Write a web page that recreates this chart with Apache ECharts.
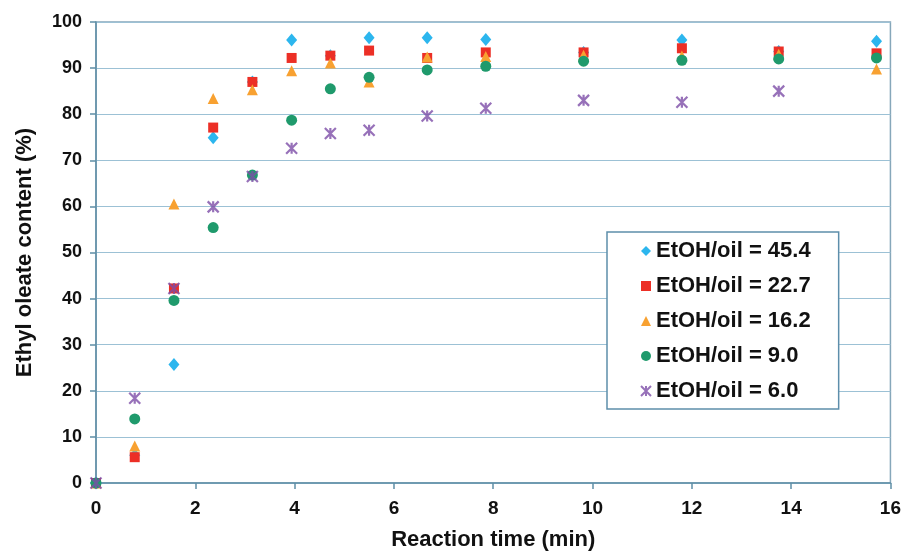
<!DOCTYPE html>
<html>
<head>
<meta charset="utf-8">
<script src="https://cdn.jsdelivr.net/npm/echarts@6/dist/echarts.min.js"></script>
<style>html,body{margin:0;padding:0;background:#fff;}#c{width:904px;height:556px;}</style>
</head>
<body>
<div id="c"></div>
<script>
const times = [0, 0.78, 1.57, 2.36, 3.15, 3.94, 4.72, 5.5, 6.67, 7.85, 9.82, 11.8, 13.75, 15.72];
const seriesNames = ['EtOH/oil = 45.4', 'EtOH/oil = 22.7', 'EtOH/oil = 16.2', 'EtOH/oil = 9.0', 'EtOH/oil = 6.0'];
const s454 = [0, 6.0, 25.7, 74.9, 87.0, 96.1, 92.7, 96.6, 96.6, 96.2, 93.4, 96.1, 93.6, 95.8];
const s227 = [0, 5.6, 42.2, 77.1, 87.0, 92.2, 92.7, 93.8, 92.2, 93.4, 93.4, 94.3, 93.6, 93.2];
const s162 = [0, 8.0, 60.5, 83.4, 85.3, 89.4, 91.1, 87.0, 92.4, 92.5, 92.8, 92.6, 93.0, 89.8];
const s90  = [0, 13.9, 39.6, 55.4, 66.8, 78.7, 85.5, 88.0, 89.6, 90.4, 91.5, 91.7, 92.0, 92.2];
const s60  = [0, 18.4, 42.2, 59.9, 66.5, 72.6, 75.8, 76.5, 79.6, 81.3, 83.0, 82.6, 85.0];
const xTicks = [0, 2, 4, 6, 8, 10, 12, 14, 16];
const yTicks = [0, 10, 20, 30, 40, 50, 60, 70, 80, 90, 100];

const FONT = "'Liberation Sans', Arial, sans-serif";
function pairs(vals) { return vals.map((v, i) => [times[i], v]); }

const styles = [
  { symbol: 'diamond', size: [11, 13], color: '#2cb6ee' },
  { symbol: 'rect', size: 10, color: '#ec2f26' },
  { symbol: 'triangle', size: 11, color: '#f8a131' },
  { symbol: 'circle', size: 11, color: '#1f9a6c' },
  { symbol: 'path://M0,0L10,10M10,0L0,10M5,0L5,10', size: 11, color: '#7d4ea8', stroke: true }
];
const allData = [s454, s227, s162, s90, s60];

const chart = echarts.init(document.getElementById('c'), null, { renderer: 'canvas' });
chart.setOption({
  backgroundColor: '#ffffff',
  animation: false,
  grid: { left: 96, right: 11, top: 22, bottom: 70, show: true, borderColor: '#86a7ba', borderWidth: 1.5, backgroundColor: 'transparent' },
  xAxis: {
    type: 'value', min: 0, max: 16, interval: 2,
    name: 'Reaction time (min)', nameLocation: 'middle', nameGap: 46,
    nameTextStyle: { fontFamily: FONT, fontWeight: 'bold', fontSize: 22, color: '#111' },
    axisLine: { show: true, onZero: false, lineStyle: { color: '#5f8ea6', width: 1.5 } },
    axisTick: { show: true, length: 6, inside: false, lineStyle: { color: '#5f8ea6', width: 1.5 } },
    axisLabel: { margin: 16, fontFamily: FONT, fontWeight: 'bold', fontSize: 19, color: '#111',
      formatter: v => xTicks.includes(v) ? String(v) : '' },
    splitLine: { show: false }
  },
  yAxis: {
    type: 'value', min: 0, max: 100, interval: 10,
    name: 'Ethyl oleate content (%)', nameLocation: 'middle', nameGap: 60,
    nameTextStyle: { fontFamily: FONT, fontWeight: 'bold', fontSize: 22, color: '#111' },
    axisLine: { show: true, lineStyle: { color: '#5f8ea6', width: 1.5 } },
    axisTick: { show: true, length: 6, lineStyle: { color: '#5f8ea6', width: 1.5 } },
    axisLabel: { margin: 14, fontFamily: FONT, fontWeight: 'bold', fontSize: 18, color: '#111',
      formatter: v => yTicks.includes(v) ? String(v) : '' },
    splitLine: { show: true, lineStyle: { color: '#9cc1d5', width: 1.2 } }
  },
  legend: {
    orient: 'vertical', left: 607, top: 232,
    padding: [8, 28, 7, 33], itemGap: 13,
    itemWidth: 10, itemHeight: 10,
    borderColor: '#5d8eab', borderWidth: 1.5, backgroundColor: '#ffffff',
    textStyle: { fontFamily: FONT, fontWeight: 'bold', fontSize: 22, color: '#111' },
    data: seriesNames
  },
  series: allData.map((d, i) => {
    const st = styles[i];
    return {
      name: seriesNames[i], type: 'scatter', data: pairs(d),
      symbol: st.symbol, symbolSize: st.size,
      itemStyle: st.stroke
        ? { color: st.color, borderColor: st.color, borderWidth: 2.2 }
        : { color: st.color, opacity: 1 },
      z: 2 + i
    };
  })
});
</script>
</body>
</html>
